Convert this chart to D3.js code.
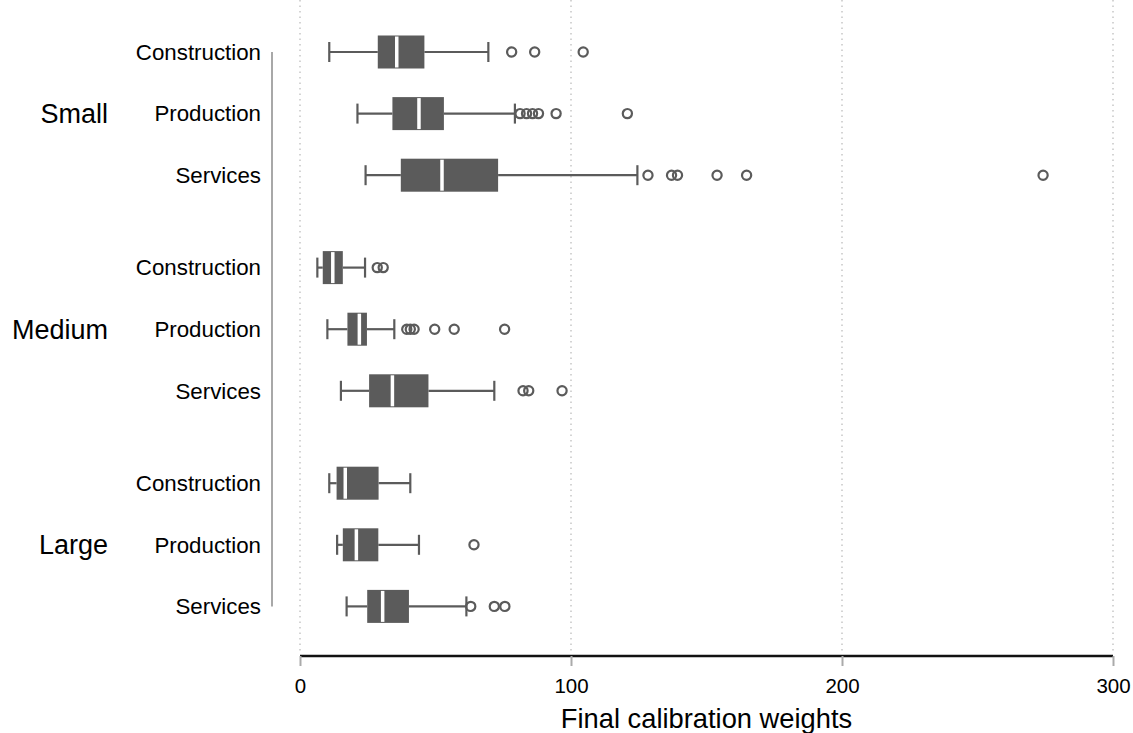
<!DOCTYPE html>
<html>
<head>
<meta charset="utf-8">
<script src="https://cdn.jsdelivr.net/npm/d3@7"></script>
<style>
  html, body { margin: 0; padding: 0; background: #ffffff; }
  svg { display: block; font-family: "Liberation Sans", Arial, sans-serif; }
</style>
</head>
<body>
<svg id="chart" width="1133" height="733"></svg>
<script>
// Firm size groups and sectors, top to bottom
const sizes = ["Small", "Medium", "Large"];
const sectors = ["Construction", "Production", "Services"];

// Box statistics per row (Small/Construction ... Large/Services)
const lowerWhisker = [10.8, 21.2, 24.2, 6.4, 10.1, 15.1, 10.8, 13.7, 17.2];
const lowerQuartile = [28.7, 34.1, 37.2, 8.4, 17.5, 25.5, 13.5, 15.8, 24.8];
const medians = [35.7, 43.9, 52.4, 12.1, 21.9, 34.1, 16.7, 20.8, 30.5];
const upperQuartile = [45.9, 53.1, 73.1, 15.8, 24.7, 47.4, 29.0, 28.9, 40.2];
const upperWhisker = [69.5, 79.3, 124.5, 24.0, 34.8, 71.7, 40.7, 43.9, 61.4];
const outliers = [
  [78.1, 86.6, 104.5],
  [81.2, 83.6, 85.8, 88.0, 94.5, 120.8],
  [128.4, 137.1, 139.3, 153.9, 164.8, 274.2],
  [28.5, 30.7],
  [39.4, 40.7, 42.1, 49.7, 56.9, 75.5],
  [82.3, 84.4, 96.7],
  [],
  [64.2],
  [63.0, 71.7, 75.6]
];

// Axis
const xTicks = [0, 100, 200, 300];
const xTitle = "Final calibration weights";

const svg = d3.select("#chart");
const boxColor = "#5b5b5b";

const x = d3.scaleLinear().domain([0, 300]).range([300, 1113]);
// row slot: groups separated by an extra half row
const slot = (g, i) => g * 3.5 + i;
const y = d3.scaleLinear().domain([0, 9]).range([52, 606.4]);

const rows = [];
sizes.forEach((s, g) => sectors.forEach((sec, i) => {
  const k = g * 3 + i;
  rows.push({
    size: s, sector: sec, g, i, pos: slot(g, i),
    lw: lowerWhisker[k], q1: lowerQuartile[k], med: medians[k],
    q3: upperQuartile[k], uw: upperWhisker[k], out: outliers[k]
  });
}));

// dotted vertical grid lines
svg.append("g").selectAll("line").data(xTicks).join("line")
  .attr("x1", d => x(d)).attr("x2", d => x(d))
  .attr("y1", 0).attr("y2", 652)
  .attr("stroke", "#bdbdbd").attr("stroke-width", 1.3)
  .attr("stroke-dasharray", "1.5,4");

// x axis
const axis = svg.append("g").attr("transform", "translate(0,656)")
  .call(d3.axisBottom(x).tickValues(xTicks).tickSize(10).tickPadding(12).tickFormat(d3.format("d")));
axis.select(".domain").attr("stroke", "#111").attr("stroke-width", 2.6)
  .attr("d", `M${x(0)},0H${x(300)}`);
axis.selectAll(".tick line").attr("stroke", "#aaaaaa").attr("stroke-width", 2);
axis.selectAll(".tick text").attr("fill", "#000").attr("font-size", 20.5)
  .attr("font-family", "'Liberation Sans', Arial, sans-serif");

svg.append("text")
  .attr("x", (x(0) + x(300)) / 2).attr("y", 728)
  .attr("text-anchor", "middle").attr("font-size", 27.3).attr("fill", "#000")
  .text(xTitle);

// bracket line joining the category labels
svg.append("line")
  .attr("x1", 272).attr("x2", 272)
  .attr("y1", y(0)).attr("y2", y(9))
  .attr("stroke", "#a8a8a8").attr("stroke-width", 2);

// sector labels
svg.append("g").selectAll("text").data(rows).join("text")
  .attr("x", 261).attr("y", d => y(d.pos)).attr("dy", "0.35em")
  .attr("text-anchor", "end").attr("font-size", 22.3).attr("fill", "#000")
  .text(d => d.sector);

// size group labels
svg.append("g").selectAll("text").data(sizes).join("text")
  .attr("x", 108).attr("y", (d, g) => y(slot(g, 1))).attr("dy", "0.35em")
  .attr("text-anchor", "end").attr("font-size", 27).attr("fill", "#000")
  .text(d => d);

// boxes
const boxH = 33, capH = 20;
const rowG = svg.append("g").selectAll("g").data(rows).join("g")
  .attr("transform", d => `translate(0,${y(d.pos)})`);

rowG.append("line")
  .attr("x1", d => x(d.lw)).attr("x2", d => x(d.q1))
  .attr("stroke", boxColor).attr("stroke-width", 2.2);
rowG.append("line")
  .attr("x1", d => x(d.q3)).attr("x2", d => x(d.uw))
  .attr("stroke", boxColor).attr("stroke-width", 2.2);
rowG.append("line")
  .attr("x1", d => x(d.lw)).attr("x2", d => x(d.lw))
  .attr("y1", -capH / 2).attr("y2", capH / 2)
  .attr("stroke", boxColor).attr("stroke-width", 2.2);
rowG.append("line")
  .attr("x1", d => x(d.uw)).attr("x2", d => x(d.uw))
  .attr("y1", -capH / 2).attr("y2", capH / 2)
  .attr("stroke", boxColor).attr("stroke-width", 2.2);
rowG.append("rect")
  .attr("x", d => x(d.q1)).attr("width", d => x(d.q3) - x(d.q1))
  .attr("y", -boxH / 2).attr("height", boxH)
  .attr("fill", boxColor);
rowG.append("line")
  .attr("x1", d => x(d.med)).attr("x2", d => x(d.med))
  .attr("y1", -boxH / 2 + 1).attr("y2", boxH / 2 - 1)
  .attr("stroke", "#ffffff").attr("stroke-width", 3.5);
rowG.selectAll("circle").data(d => d.out).join("circle")
  .attr("cx", v => x(v)).attr("cy", 0).attr("r", 4.6)
  .attr("fill", "none").attr("stroke", boxColor).attr("stroke-width", 2.2);
</script>
</body>
</html>
